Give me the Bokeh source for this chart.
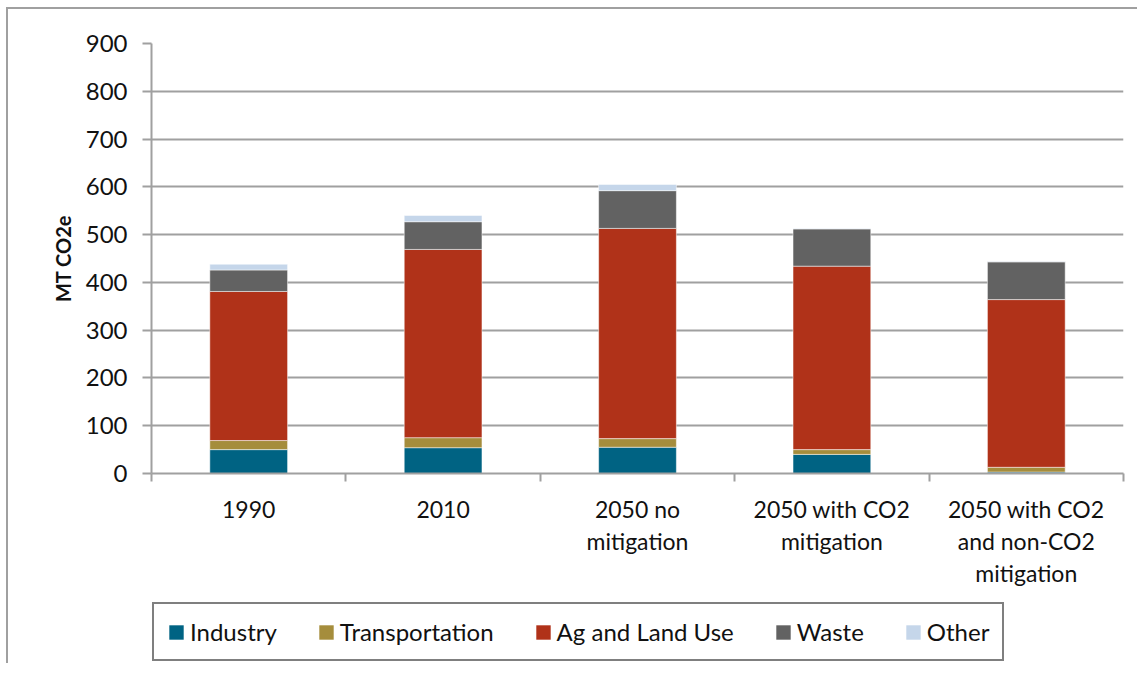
from bokeh.plotting import figure
from bokeh.layouts import column
from bokeh.models import (Range1d, LinearAxis, FixedTicker, Legend, LegendItem,
                          ColumnDataSource)
from bokeh.embed import file_html
from bokeh.resources import INLINE

categories = ["1990", "2010", "2050 no\nmitigation", "2050 with CO2\nmitigation",
              "2050 with CO2\nand non-CO2\nmitigation"]
series = ["Industry", "Transportation", "Ag and Land Use", "Waste", "Other"]
industry = [50, 54, 55, 40, 3]
transportation = [19, 21, 18, 10, 10]
ag_land_use = [312, 394, 440, 384, 351]
waste = [45, 58, 79, 78, 79]
other = [12, 13, 13, 1, 1]
y_ticks = [0, 100, 200, 300, 400, 500, 600, 700, 800, 900]

colors = ["#006383", "#A58D3C", "#B03219", "#626262", "#C5D6EA"]
FONT = "Lato"
GRID = "#a0a0a0"

n = len(categories)
centers = [i + 0.5 for i in range(n)]
edges = list(range(n + 1))

source = ColumnDataSource(dict(x=centers, Industry=industry,
                               Transportation=transportation,
                               **{"Ag and Land Use": ag_land_use},
                               Waste=waste, Other=other))

p = figure(x_range=Range1d(0, n), y_range=Range1d(0, 900),
           frame_width=972, frame_height=430, output_backend="svg", toolbar_location=None,
           x_axis_location=None, min_border_left=139, min_border_right=18,
           min_border_top=34, min_border_bottom=128)
p.outline_line_color = None
p.xgrid.grid_line_color = None
p.ygrid.grid_line_color = GRID
p.ygrid.grid_line_width = 2

p.vbar_stack(series, x="x", width=0.4, source=source, color=colors,
             line_color="white", line_width=0.5)

# y axis
ya = p.yaxis[0]
ya.ticker = FixedTicker(ticks=y_ticks)
ya.axis_line_color = GRID
ya.axis_line_width = 2
ya.major_tick_line_color = GRID
ya.major_tick_line_width = 2
ya.major_tick_out = 9
ya.major_tick_in = 0
ya.minor_tick_line_color = None
ya.major_label_text_font = FONT
ya.major_label_text_font_size = "24px"
ya.major_label_text_color = "#111111"
ya.major_label_standoff = 15
ya.axis_label = "MT CO2e"
ya.axis_label_text_font = FONT
ya.axis_label_text_font_size = "20px"
ya.axis_label_text_font_style = "bold"
ya.axis_label_text_color = "#111111"
ya.axis_label_standoff = 8

# category edge ticks
tick_axis = LinearAxis(ticker=FixedTicker(ticks=edges),
                       major_tick_out=8, major_tick_in=0, minor_tick_line_color=None,
                       axis_line_color=GRID, axis_line_width=2,
                       major_tick_line_color=GRID, major_tick_line_width=2,
                       major_label_text_font_size="0px", major_label_text_color=None,
                       major_label_standoff=0)
p.add_layout(tick_axis, "below")

cat_axis = LinearAxis(ticker=FixedTicker(ticks=centers),
                      major_label_overrides={c: lab for c, lab in zip(centers, categories)},
                      major_tick_line_color=None, axis_line_color=None,
                      minor_tick_line_color=None,
                      major_label_text_font=FONT, major_label_text_font_size="23px",
                      major_label_text_color="#111111",
                      major_label_text_line_height=1.15,
                      major_label_standoff=7)
p.add_layout(cat_axis, "below")

# legend strip (bars of the same data sit below its visible y range)
p2 = figure(x_range=Range1d(0, n), y_range=Range1d(5000, 6000), width=1129, height=62,
            output_backend="svg", toolbar_location=None,
            x_axis_location=None, y_axis_location=None,
            min_border_left=143, min_border_right=0, min_border_top=0, min_border_bottom=0)
p2.outline_line_color = None
p2.grid.grid_line_color = None
leg_renderers = p2.vbar_stack(series, x="x", width=0.4, source=source, color=colors,
                              line_color=None)

legend = Legend(items=[LegendItem(label=s, renderers=[r]) for s, r in zip(series, leg_renderers)],
                orientation="horizontal", location="top_left",
                border_line_color="black", border_line_width=2,
                label_text_font=FONT, label_text_font_size="24px",
                label_text_color="#111111",
                glyph_width=18, glyph_height=18, label_standoff=5,
                spacing=40, padding=13, margin=1)
p2.add_layout(legend, "center")

layout = column(p, p2, spacing=0,
                styles={"border-top": "2px solid #a0a0a0", "border-left": "2px solid #a0a0a0",
                        "margin-left": "6px", "margin-top": "7px"})

open("out.html", "w").write(file_html(layout, INLINE))
